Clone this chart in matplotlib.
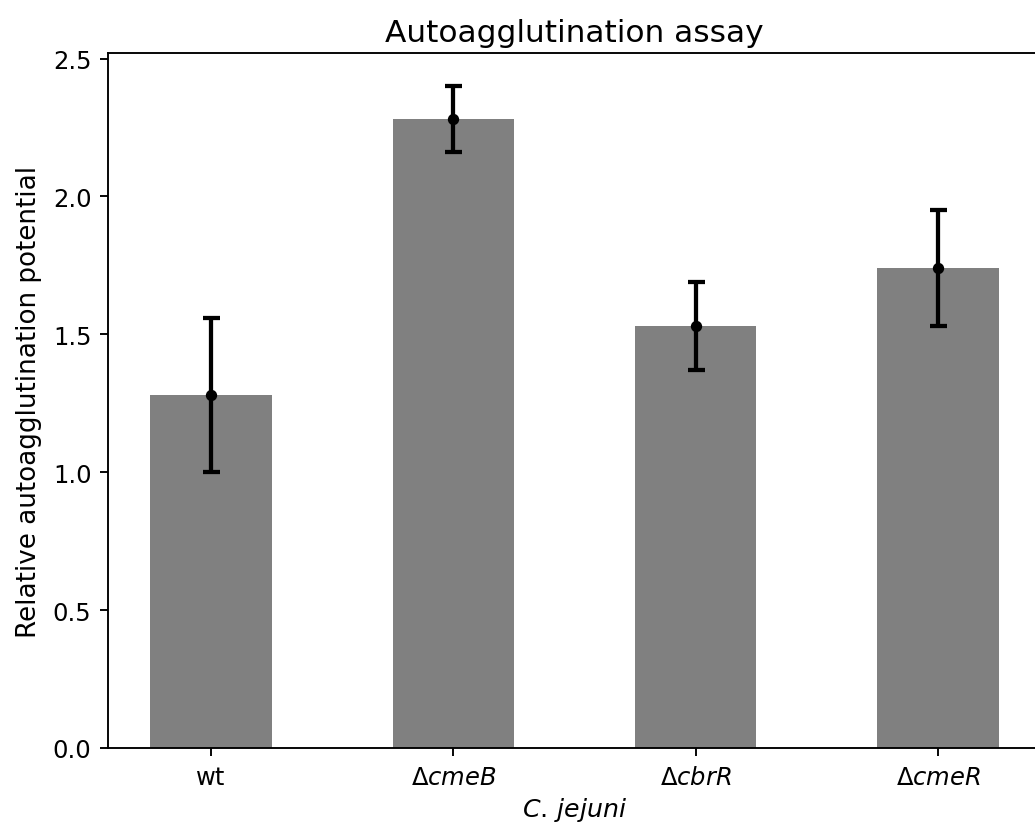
import matplotlib
matplotlib.use("Agg")
import matplotlib.pyplot as plt
import numpy as np

strains = ["wt", r"$\Delta cmeB$", r"$\Delta cbrR$", r"$\Delta cmeR$"]
means = [1.28, 2.28, 1.53, 1.74]
errors = [0.28, 0.12, 0.16, 0.21]

s = 1.7
fig = plt.figure(figsize=(10.35, 8.29), dpi=100)
ax = fig.add_axes([108/1035, 1-749/829, (1041-108)/1035, (749-54)/829])

x = np.arange(len(strains))
ax.bar(x, means, width=0.5, color="#808080")
ax.errorbar(x, means, yerr=errors, fmt="o", color="black", ms=4.2*s,
            elinewidth=1.8*s, capsize=3.6*s, capthick=1.8*s)

ax.set_xticks(x)
ax.set_xticklabels(strains)
ax.set_ylabel("Relative autoagglutination potential", fontsize=18.8, labelpad=8)
ax.set_xlabel(r"$C.\,jejuni$", fontsize=18.2, labelpad=5)
ax.set_title("Autoagglutination assay", fontsize=22.5, pad=9)
ax.tick_params(labelsize=17.5, length=3.5*s, width=0.8*s, pad=3.5*s)
for sp in ax.spines.values():
    sp.set_linewidth(0.8*s)

fig.savefig("out.png", dpi=100)
